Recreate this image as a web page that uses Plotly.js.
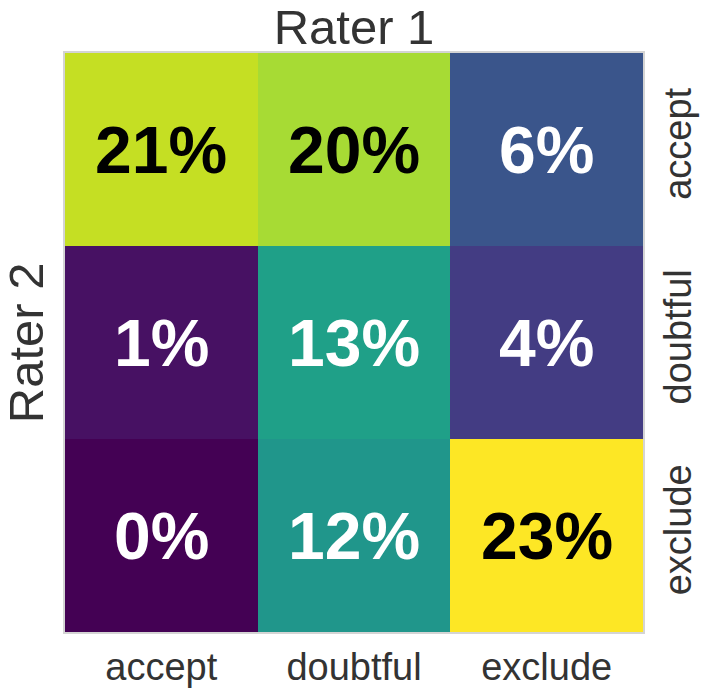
<!DOCTYPE html>
<html>
<head>
<meta charset="utf-8">
<script src="https://cdn.plot.ly/plotly-3.0.1.min.js"></script>
<style>body{margin:0;background:#fff}#chart{width:706px;height:695px}</style>
</head>
<body>
<div id="chart"></div>
<script>
// agreement matrix, percent of items
var rater1 = ['accept', 'doubtful', 'exclude'];
var rater2 = ['accept', 'doubtful', 'exclude'];
var pct = [
  [21, 20, 6],
  [1, 13, 4],
  [0, 12, 23]
];

var notes = [];
rater2.forEach(function (r, i) {
  rater1.forEach(function (c, j) {
    var v = pct[i][j];
    notes.push({
      x: c, y: r, text: '<b>' + v + '%</b>', showarrow: false,
      font: { family: 'Liberation Sans, Arial, sans-serif', size: 66, color: v > 15 ? '#000' : '#fff' }
    });
  });
});
notes.push({
  text: 'Rater 2', xref: 'paper', yref: 'paper', x: -0.068, y: 0.5,
  xanchor: 'center', yanchor: 'middle', textangle: -90, showarrow: false,
  font: { family: 'Liberation Sans, Arial, sans-serif', size: 49, color: '#333' }
});

Plotly.newPlot('chart', [{
  type: 'heatmap',
  x: rater1,
  y: rater2,
  z: pct,
  colorscale: 'Viridis',
  zmin: 0,
  zmax: 23,
  showscale: false,
  hoverinfo: 'none'
}], {
  width: 706,
  height: 695,
  margin: { l: 65, r: 63, t: 53, b: 63 },
  paper_bgcolor: '#fff',
  plot_bgcolor: '#fff',
  font: { family: 'Liberation Sans, Arial, sans-serif', color: '#333' },
  title: {
    text: 'Rater 1', x: 0.5, xref: 'paper', y: 0.962, yanchor: 'middle',
    font: { size: 49, color: '#333' }
  },
  xaxis: {
    showline: true, mirror: true, linecolor: '#d4d4d4', linewidth: 2,
    ticks: '', tickfont: { size: 38, color: '#333' }, fixedrange: true
  },
  yaxis: {
    side: 'right', autorange: 'reversed', tickangle: -90,
    showline: true, mirror: true, linecolor: '#d4d4d4', linewidth: 2,
    ticks: '', tickfont: { size: 38, color: '#333' }, fixedrange: true
  },
  annotations: notes
}, { displayModeBar: false, staticPlot: true });
</script>
</body>
</html>
